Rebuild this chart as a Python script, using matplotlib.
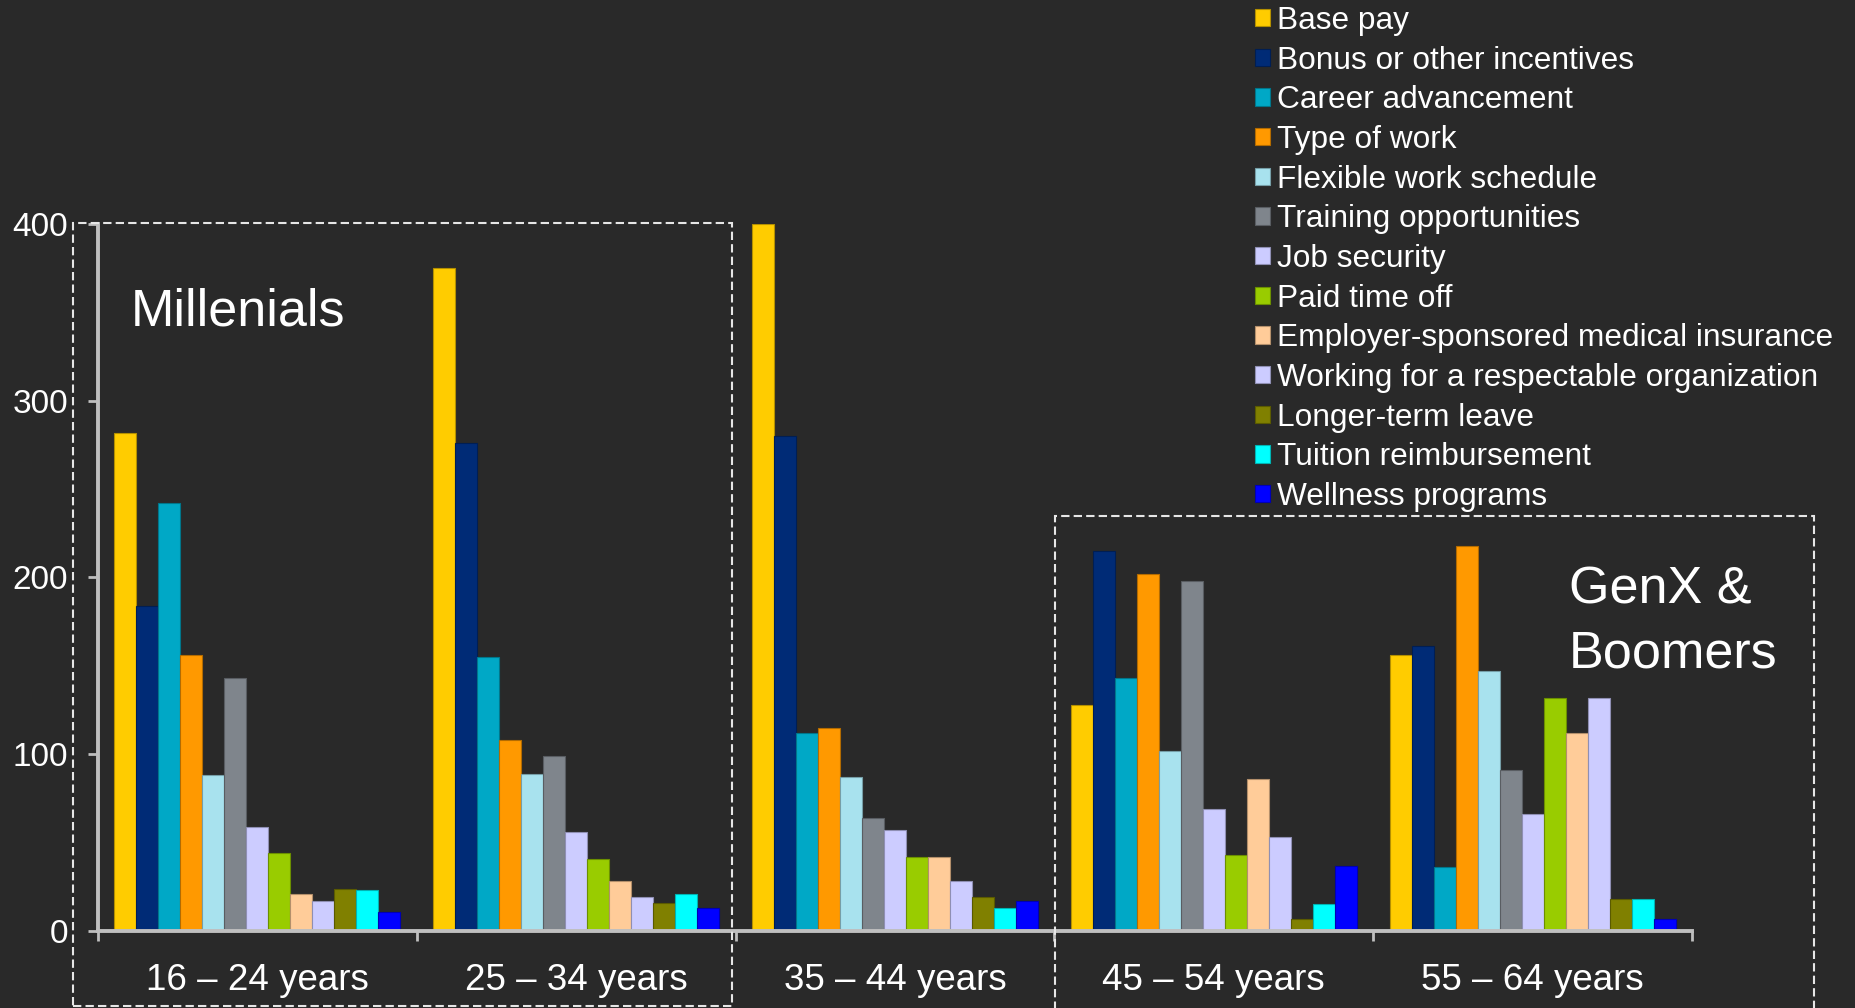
import matplotlib.pyplot as plt
import matplotlib.colors as mcolors
from matplotlib.patches import Rectangle
import numpy as np

age_groups = ['16 – 24 years', '25 – 34 years', '35 – 44 years',
              '45 – 54 years', '55 – 64 years']

benefits = ['Base pay', 'Bonus or other incentives', 'Career advancement',
            'Type of work', 'Flexible work schedule', 'Training opportunities',
            'Job security', 'Paid time off',
            'Employer-sponsored medical insurance',
            'Working for a respectable organization', 'Longer-term leave',
            'Tuition reimbursement', 'Wellness programs']

# responses per age group, one list per benefit
base_pay = [282, 375, 400, 128, 156]
bonus = [184, 276, 280, 215, 161]
career = [242, 155, 112, 143, 36]
type_of_work = [156, 108, 115, 202, 218]
flexible = [88, 89, 87, 102, 147]
training = [143, 99, 64, 198, 91]
job_security = [59, 56, 57, 69, 66]
paid_time_off = [44, 41, 42, 43, 132]
medical = [21, 28, 42, 86, 112]
respectable = [17, 19, 28, 53, 132]
longer_leave = [24, 16, 19, 7, 18]
tuition = [23, 21, 13, 15, 18]
wellness = [11, 13, 17, 37, 7]

colors = ['#FFCC00', '#002B76', '#00A8C6', '#FF9900', '#A8E2EE', '#7F858C',
          '#CCCCFF', '#99CC00', '#FFCC99', '#CCCCFF', '#808000', '#00FFFF',
          '#0000FF']

BG = '#292929'
AXIS = '#BFBFBF'
FONT = 'Liberation Sans'


def main():
    series = [base_pay, bonus, career, type_of_work, flexible, training,
              job_security, paid_time_off, medical, respectable, longer_leave,
              tuition, wellness]

    fig = plt.figure(figsize=(18.56, 10.08), dpi=100, facecolor=BG)
    ax = fig.add_axes([0.0528, 0.0764, 0.9116 - 0.0528, 0.7778 - 0.0764])
    ax.set_facecolor(BG)

    x = np.arange(len(age_groups))
    width = 0.069
    n = len(series)
    bars = []
    for j, (vals, name, col) in enumerate(zip(series, benefits, colors)):
        edge = np.array(mcolors.to_rgb(col)) * 0.7
        offset = (j - (n - 1) / 2) * width
        b = ax.bar(x + offset, vals, width, color=col, edgecolor=edge,
                   linewidth=0.8, label=name, zorder=2)
        bars.append(b)

    ax.set_xlim(-0.5, len(age_groups) - 0.5)
    ax.set_ylim(0, 400)
    ax.set_yticks([0, 100, 200, 300, 400])

    # boundary ticks between groups, labels centred under each group
    ax.set_xticks(np.arange(len(age_groups) + 1) - 0.5)
    ax.set_xticklabels([])
    ax.set_xticks(x, minor=True)
    ax.set_xticklabels(age_groups, minor=True)
    ax.tick_params(axis='x', which='major', length=7.5, width=2,
                   color=AXIS, direction='out')
    ax.tick_params(axis='x', which='minor', length=0, pad=23,
                   labelsize=26.5, labelcolor='white')
    ax.tick_params(axis='y', length=7.5, width=2, color=AXIS,
                   direction='out', pad=14, labelsize=24,
                   labelcolor='white')
    for lab in ax.get_xticklabels(minor=True) + ax.get_yticklabels():
        lab.set_fontfamily(FONT)

    for side in ['top', 'right']:
        ax.spines[side].set_visible(False)
    for side in ['left', 'bottom']:
        ax.spines[side].set_color(AXIS)
        ax.spines[side].set_linewidth(2.8)

    leg = fig.legend(handles=bars, labels=benefits, loc='upper left',
                     bbox_to_anchor=(0.676, 0.994), frameon=False,
                     prop={'family': FONT, 'size': 22.8},
                     handlelength=0.47, handleheight=0.47,
                     handletextpad=0.25, labelspacing=0.305,
                     borderpad=0, borderaxespad=0)
    for t in leg.get_texts():
        t.set_color('white')

    W, H = 1856, 1008

    def fx(px):
        return px / W

    def fy(py):
        return 1 - py / H

    # generation annotations
    fig.text(fx(131), fy(325), 'Millenials', color='white', fontsize=37.5,
             family=FONT, va='baseline', ha='left')
    fig.text(fx(1569), fy(604), 'GenX &', color='white', fontsize=37.5,
             family=FONT, va='baseline', ha='left')
    fig.text(fx(1569), fy(668), 'Boomers', color='white', fontsize=37.5,
             family=FONT, va='baseline', ha='left')

    # dashed frames around the generations
    boxes = [(73, 223, 732, 1006), (1055, 516, 1814, 1030)]
    for x0, y0, x1, y1 in boxes:
        fig.patches.append(Rectangle((fx(x0), fy(y1)), fx(x1) - fx(x0),
                                     fy(y0) - fy(y1), fill=False,
                                     edgecolor='#E6E6E6', linewidth=1.5,
                                     linestyle=(0, (4, 2)),
                                     transform=fig.transFigure, zorder=5))

    fig.savefig('out.png', dpi=100, facecolor=BG)


if __name__ == "__main__":
    main()
